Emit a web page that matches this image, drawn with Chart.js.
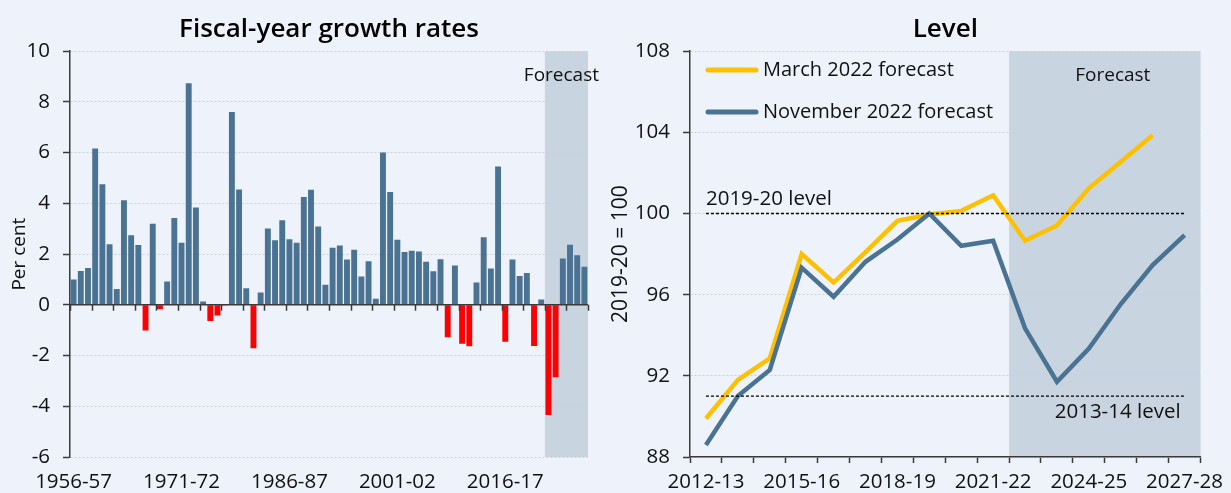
<!DOCTYPE html>
<html><head><meta charset="utf-8">
<script src="https://cdn.jsdelivr.net/npm/chart.js@4.4.1/dist/chart.umd.min.js"></script>
<style>
html,body{margin:0;padding:0;background:#EEF2FB;}
#wrap{position:relative;width:1231px;height:493px;overflow:hidden;background:#EEF2FB;}
#c1{position:absolute;left:0;top:0;}
#c2{position:absolute;left:605px;top:0;}
</style></head><body>
<div id="wrap">
<canvas id="c1" width="605" height="493"></canvas>
<canvas id="c2" width="626" height="493"></canvas>
</div>
<script>
// ---------- Data: left panel (fiscal-year growth rates, per cent) ----------
const growthYears = ['1956-57','1957-58','1958-59','1959-60','1960-61','1961-62','1962-63','1963-64','1964-65','1965-66',
'1966-67','1967-68','1968-69','1969-70','1970-71','1971-72','1972-73','1973-74','1974-75','1975-76',
'1976-77','1977-78','1978-79','1979-80','1980-81','1981-82','1982-83','1983-84','1984-85','1985-86',
'1986-87','1987-88','1988-89','1989-90','1990-91','1991-92','1992-93','1993-94','1994-95','1995-96',
'1996-97','1997-98','1998-99','1999-00','2000-01','2001-02','2002-03','2003-04','2004-05','2005-06',
'2006-07','2007-08','2008-09','2009-10','2010-11','2011-12','2012-13','2013-14','2014-15','2015-16',
'2016-17','2017-18','2018-19','2019-20','2020-21','2021-22','2022-23','2023-24','2024-25','2025-26',
'2026-27','2027-28'];
const growthValues = [1.0,1.33,1.45,6.16,4.75,2.39,0.62,4.12,2.74,2.36,
-1.01,3.2,-0.17,0.92,3.42,2.45,8.74,3.84,0.13,-0.64,
-0.42,-0.03,7.6,4.55,0.65,-1.71,0.49,3.01,2.55,3.33,
2.59,2.45,4.25,4.54,3.09,0.79,2.25,2.34,1.79,2.17,
1.12,1.72,0.24,6.01,4.45,2.57,2.08,2.13,2.1,1.7,
1.32,1.8,-1.28,1.55,-1.53,-1.63,0.88,2.66,1.43,5.45,
-1.46,1.79,1.14,1.25,-1.62,0.21,-4.34,-2.86,1.83,2.37,
1.95,1.5];
const growthTickLabels = ['1956-57','1971-72','1986-87','2001-02','2016-17'];
const growthForecastStart = '2022-23';

// ---------- Data: right panel (level, 2019-20 = 100) ----------
const levelYears = ['2012-13','2013-14','2014-15','2015-16','2016-17','2017-18','2018-19','2019-20',
'2020-21','2021-22','2022-23','2023-24','2024-25','2025-26','2026-27','2027-28'];
const march2022 = [89.9,91.8,92.86,98.0,96.6,98.1,99.64,99.95,100.13,100.9,98.66,99.41,101.24,102.55,103.86,null];
const nov2022 = [88.59,91.0,92.29,97.33,95.9,97.62,98.72,100.0,98.41,98.66,94.34,91.71,93.35,95.54,97.46,98.94];
const levelTickLabels = ['2012-13','2015-16','2018-19','2021-22','2024-25','2027-28'];
const level201920 = 100;
const level201314 = 91.0;
const levelForecastStart = '2022-23';

// ---------- Styles ----------
const FONT = '"Open Sans", sans-serif';
const BLUE = '#4A7292';
const RED = '#FF0000';
const YELLOW = '#FFC000';
const SHADE = '#C8D4E0';
const AXIS = '#3a3a3a';
const GRID = '#cdd0d6';
const TXT = '#111';

Chart.defaults.font.family = FONT;
Chart.defaults.color = TXT;

function shadeForecast(chart, startLabel) {
  const {ctx, chartArea, scales: {x}} = chart;
  const i = chart.data.labels.indexOf(startLabel);
  const px = (x.getPixelForValue(i - 1) + x.getPixelForValue(i)) / 2;
  ctx.save();
  ctx.fillStyle = SHADE;
  ctx.fillRect(px, chartArea.top, chartArea.right - px, chartArea.bottom - chartArea.top);
  ctx.restore();
}

const leftPlugin = {
  id: 'leftDecor',
  beforeDraw(chart) {
    shadeForecast(chart, growthForecastStart);
  },
  afterDatasetsDraw(chart) {
    const {ctx, chartArea, scales: {x, y}} = chart;
    const y0 = y.getPixelForValue(0);
    ctx.save();
    ctx.strokeStyle = AXIS;
    ctx.lineWidth = 1.5;
    ctx.beginPath();
    ctx.moveTo(chartArea.left, y0);
    ctx.lineTo(chartArea.right, y0);
    ctx.stroke();
    const n = chart.data.labels.length;
    const w = (chartArea.right - chartArea.left) / n;
    ctx.beginPath();
    for (let k = 0; k <= n; k += 3) {
      const px = Math.round(chartArea.left + k * w) + 0.5;
      ctx.moveTo(px, y0);
      ctx.lineTo(px, y0 + 6);
    }
    ctx.stroke();
    ctx.fillStyle = TXT;
    ctx.font = '19px ' + FONT;
    ctx.textAlign = 'left';
    ctx.textBaseline = 'middle';
    const i = chart.data.labels.indexOf(growthForecastStart);
    const px = (x.getPixelForValue(i - 1) + x.getPixelForValue(i)) / 2;
    ctx.fillText('Forecast', px - 21, 76);
    ctx.restore();
  }
};

new Chart(document.getElementById('c1'), {
  type: 'bar',
  data: {
    labels: growthYears,
    datasets: [{
      data: growthValues,
      backgroundColor: c => (c.raw < 0 ? RED : BLUE),
      borderWidth: 0,
      categoryPercentage: 1,
      barPercentage: 0.82
    }]
  },
  options: {
    responsive: false,
    animation: false,
    layout: {padding: {left: 0, right: 17, top: 0, bottom: 0}},
    plugins: {
      legend: {display: false},
      tooltip: {enabled: false},
      title: {
        display: true, text: 'Fiscal-year growth rates', fullSize: false,
        font: {family: FONT, size: 26, weight: '600'}, color: '#000',
        padding: {top: 14, bottom: 6}
      }
    },
    scales: {
      x: {
        grid: {display: false, drawTicks: false},
        border: {display: false},
        ticks: {
          autoSkip: false, maxRotation: 0, minRotation: 0, padding: 13,
          font: {size: 20.5}, color: TXT,
          callback: (v, i) => (growthTickLabels.includes(growthYears[i]) ? growthYears[i] : '')
        },
        afterFit: s => { s.height = 36; }
      },
      y: {
        min: -6, max: 10,
        ticks: {stepSize: 2, padding: 13, font: {size: 20.5}, color: TXT},
        grid: {color: GRID, lineWidth: 1, tickColor: AXIS, tickLength: 7, tickWidth: 1.5},
        border: {display: true, color: AXIS, width: 1.5, dash: [2, 2]},
        title: {display: true, text: 'Per cent', font: {size: 19}, color: TXT, padding: {top: 8, bottom: 0}},
        afterFit: s => { s.width = 70; }
      }
    }
  },
  plugins: [leftPlugin]
});

const rightPlugin = {
  id: 'rightDecor',
  beforeDraw(chart) {
    shadeForecast(chart, levelForecastStart);
  },
  afterDatasetsDraw(chart) {
    const {ctx, chartArea, scales: {x, y}} = chart;
    ctx.save();
    ctx.fillStyle = TXT;
    ctx.textBaseline = 'middle';
    // Forecast label
    ctx.font = '19px ' + FONT;
    const i = chart.data.labels.indexOf(levelForecastStart);
    const fx = (x.getPixelForValue(i - 1) + x.getPixelForValue(i)) / 2;
    ctx.textAlign = 'center';
    ctx.fillText('Forecast', (fx + chartArea.right) / 2 + 8, 76);
    // reference level labels
    ctx.font = '20.5px ' + FONT;
    const xFirst = x.getPixelForValue(0);
    const xLast = x.getPixelForValue(levelYears.length - 1);
    ctx.textAlign = 'left';
    ctx.fillText('2019-20 level', xFirst, y.getPixelForValue(level201920) - 14);
    ctx.textAlign = 'right';
    ctx.fillText('2013-14 level', xLast - 4, y.getPixelForValue(level201314) + 16);
    // legend
    ctx.font = '20px ' + FONT;
    const items = [['March 2022 forecast', YELLOW, 70], ['November 2022 forecast', BLUE, 112]];
    ctx.lineCap = 'round';
    ctx.lineWidth = 5;
    for (const [label, col, ly] of items) {
      ctx.strokeStyle = col;
      ctx.beginPath();
      ctx.moveTo(chartArea.left + 18, ly);
      ctx.lineTo(chartArea.left + 66, ly);
      ctx.stroke();
      ctx.textAlign = 'left';
      ctx.fillText(label, chartArea.left + 73, ly);
    }
    ctx.restore();
  }
};

new Chart(document.getElementById('c2'), {
  type: 'line',
  data: {
    labels: levelYears,
    datasets: [
      {label: '2019-20 level', data: levelYears.map(() => level201920), borderColor: '#000', borderWidth: 1.3, borderDash: [3, 2], pointRadius: 0, order: 0},
      {label: '2013-14 level', data: levelYears.map(() => level201314), borderColor: '#000', borderWidth: 1.3, borderDash: [3, 2], pointRadius: 0, order: 0},
      {label: 'November 2022 forecast', data: nov2022, borderColor: BLUE, borderWidth: 4.5, pointRadius: 0, order: 1},
      {label: 'March 2022 forecast', data: march2022, borderColor: YELLOW, borderWidth: 4.5, pointRadius: 0, order: 2}
    ]
  },
  options: {
    responsive: false,
    animation: false,
    layout: {padding: {left: 0, right: 28, top: 0, bottom: 0}},
    plugins: {
      legend: {display: false},
      tooltip: {enabled: false},
      title: {
        display: true, text: 'Level', fullSize: false,
        font: {family: FONT, size: 26, weight: '600'}, color: '#000',
        padding: {top: 14, bottom: 6}
      }
    },
    scales: {
      x: {
        offset: true,
        grid: {display: true, drawOnChartArea: false, drawTicks: true, tickLength: 6, tickColor: AXIS, tickWidth: 1.5, offset: true},
        border: {display: true, color: AXIS, width: 1.5},
        ticks: {
          autoSkip: false, maxRotation: 0, minRotation: 0, padding: 7,
          font: {size: 20.5}, color: TXT,
          callback: (v, i) => (levelTickLabels.includes(levelYears[i]) ? levelYears[i] : '')
        },
        afterFit: s => { s.height = 36; }
      },
      y: {
        min: 88, max: 108,
        ticks: {stepSize: 4, padding: 13, font: {size: 20.5}, color: TXT},
        grid: {color: GRID, lineWidth: 1, tickColor: AXIS, tickLength: 7, tickWidth: 1.5},
        border: {display: true, color: AXIS, width: 1.5, dash: [2, 2]},
        title: {display: true, text: '2019-20 = 100', font: {size: 21}, color: TXT, padding: {top: 3, bottom: 0}},
        afterFit: s => { s.width = 85; }
      }
    }
  },
  plugins: [rightPlugin]
});
</script>
</body></html>
